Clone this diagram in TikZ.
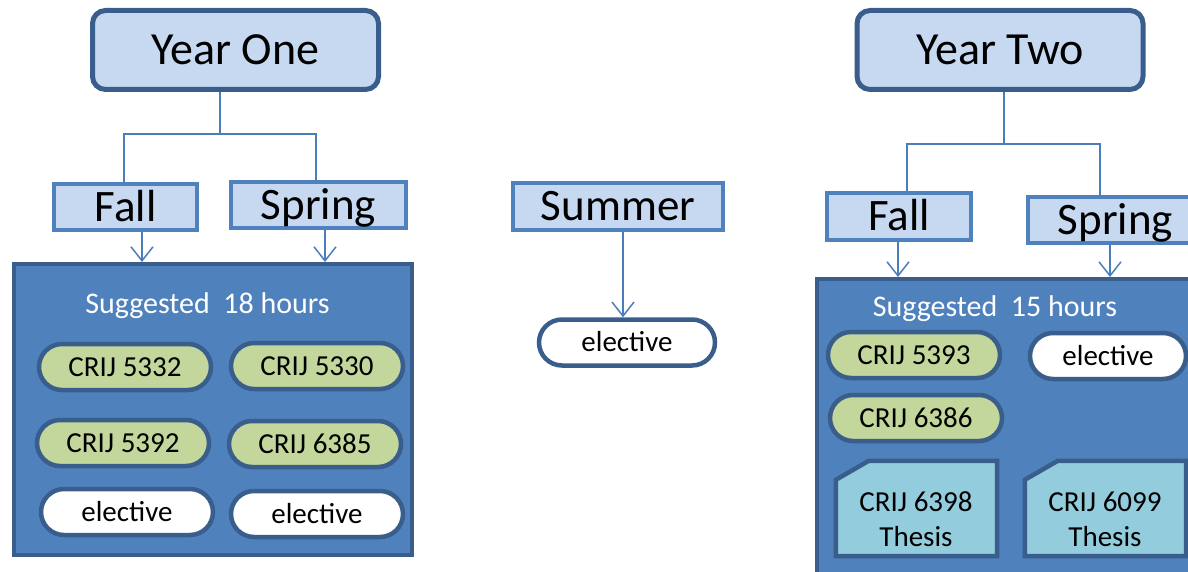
\documentclass[tikz,border=0pt]{standalone}
\usepackage{fontspec}
\setmainfont{Carlito}
\usetikzlibrary{arrows.meta,calc}
\definecolor{lightfill}{HTML}{C6D9F1}
\definecolor{darkb}{HTML}{3A5E8C}
\definecolor{medb}{HTML}{4F81BD}
\definecolor{connc}{HTML}{4A7EBB}
\definecolor{greenfill}{HTML}{C3D69B}
\definecolor{thesisfill}{HTML}{93CDDD}
\begin{document}
\begin{tikzpicture}[x=1pt,y=-1pt,
 yearbox/.style={draw=darkb, fill=lightfill, line width=5pt, rounded corners=13pt, minimum width=286pt, minimum height=79pt, inner sep=0pt, font=\fontsize{46}{55}\selectfont, text height=29pt, text depth=0pt},
 sembox/.style={draw=medb, fill=lightfill, line width=4pt, minimum height=46pt, inner sep=0pt, font=\fontsize{45}{54}\selectfont, text height=28.4pt, text depth=0pt},
 bigbox/.style={draw=darkb, fill=medb, line width=4pt, inner sep=0pt},
 pill/.style={draw=darkb, line width=4.5pt, rounded corners=23pt, minimum width=172pt, minimum height=46pt, inner sep=0pt, font=\fontsize{29}{35}\selectfont, text height=18.3pt, text depth=0pt},
 core/.style={pill, fill=greenfill},
 elect/.style={pill, fill=white},
 sugg/.style={text=white, inner sep=0pt, font=\fontsize{30}{36}\selectfont, text height=19pt, text depth=0pt},
 thesisbox/.style={inner sep=0pt, minimum width=161pt, minimum height=95pt},
 thesisframe/.style={draw=darkb, fill=thesisfill, line width=4.5pt, line join=miter},
 thesistext/.style={inner sep=0pt, align=center, font=\fontsize{29}{35}\selectfont},
 conn/.style={draw=connc, line width=1.5pt},
 arr/.style={conn, -{Straight Barb[length=14pt,width=22pt]}}
]
\useasboundingbox (0,0) rectangle (1188,572);
\clip (0,0) rectangle (1188,572);

% big boxes
\node[bigbox, minimum width=398pt, minimum height=291pt] (bigL) at (213,409.5) {};
\node[bigbox, minimum width=413pt, minimum height=341pt] (bigR) at (1023.5,449.5) {};

% headers
\node[yearbox] (y1) at (235.5,50) {Year One};
\node[yearbox] (y2) at (1000,50) {Year Two};
\node[sembox, minimum width=143pt] (f1) at (125.5,207) {Fall};
\node[sembox, minimum width=175pt] (s1) at (318.5,205) {Spring};
\node[sembox, minimum width=210pt] (su) at (618,206.5) {Summer};
\node[sembox, minimum width=144pt] (f2) at (899,216.5) {Fall};
\node[sembox, minimum width=175pt] (s2) at (1115.5,220) {Spring};

% connectors year one
\coordinate (j1) at (220,134);
\draw[conn] ([xshift=-15.5pt]y1.south) -- (j1);
\draw[conn] (j1) -| ([xshift=-1.5pt]f1.north);
\draw[conn] (j1) -| ([xshift=-2.5pt]s1.north);
\draw[arr] ([xshift=16.5pt]f1.south) -- ([xshift=16.5pt]f1.south |- bigL.north);
\draw[arr] ([xshift=6.5pt]s1.south) -- ([xshift=6.5pt]s1.south |- bigL.north);

% connectors year two
\coordinate (j2) at (1004,144);
\draw[conn] ([xshift=4pt]y2.south) -- (j2);
\draw[conn] (j2) -| ([xshift=8pt]f2.north);
\draw[conn] (j2) -| ([xshift=-15.5pt]s2.north);
\draw[arr] ([xshift=-1pt]f2.south) -- ([xshift=-1pt]f2.south |- bigR.north);
\draw[arr] ([xshift=-5.5pt]s2.south) -- ([xshift=-5.5pt]s2.south |- bigR.north);

% summer
\node[elect, minimum width=176pt] (e0) at (627,342.5) {elective};
\draw[arr] ([xshift=5pt]su.south) -- ([xshift=5pt]su.south |- e0.north);

% left contents
\node[sugg] (sg1) at (207.5,304) {Suggested\ \ 18 hours};
\node[core] (p1) at (125,367) {CRIJ 5332};
\node[core] (p2) at (317,366) {CRIJ 5330};
\node[core] (p3) at (123,443) {CRIJ 5392};
\node[core] (p4) at (315,444) {CRIJ 6385};
\node[elect] (p5) at (127,512) {elective};
\node[elect] (p6) at (317,514) {elective};

% right contents
\node[sugg] (sg2) at (995,307) {Suggested\ \ 15 hours};
\node[core] (q1) at (914,355) {CRIJ 5393};
\node[elect, minimum width=156pt] (q2) at (1108,356) {elective};
\node[core] (q3) at (916,418) {CRIJ 6386};

\node[thesisbox] (t1) at (916.5,508.5) {};
\draw[thesisframe] ($(t1.north west)+(0,19)$) -- ($(t1.north west)+(33,0)$) -- (t1.north east) -- (t1.south east) -- (t1.south west) -- cycle;
\node[thesistext] (t1t) at (916,519) {CRIJ 6398\\Thesis};

\node[thesisbox] (t2) at (1105.5,508.5) {};
\draw[thesisframe] ($(t2.north west)+(0,19)$) -- ($(t2.north west)+(33,0)$) -- (t2.north east) -- (t2.south east) -- (t2.south west) -- cycle;
\node[thesistext] (t2t) at (1105,519) {CRIJ 6099\\Thesis};
\end{tikzpicture}
\end{document}
